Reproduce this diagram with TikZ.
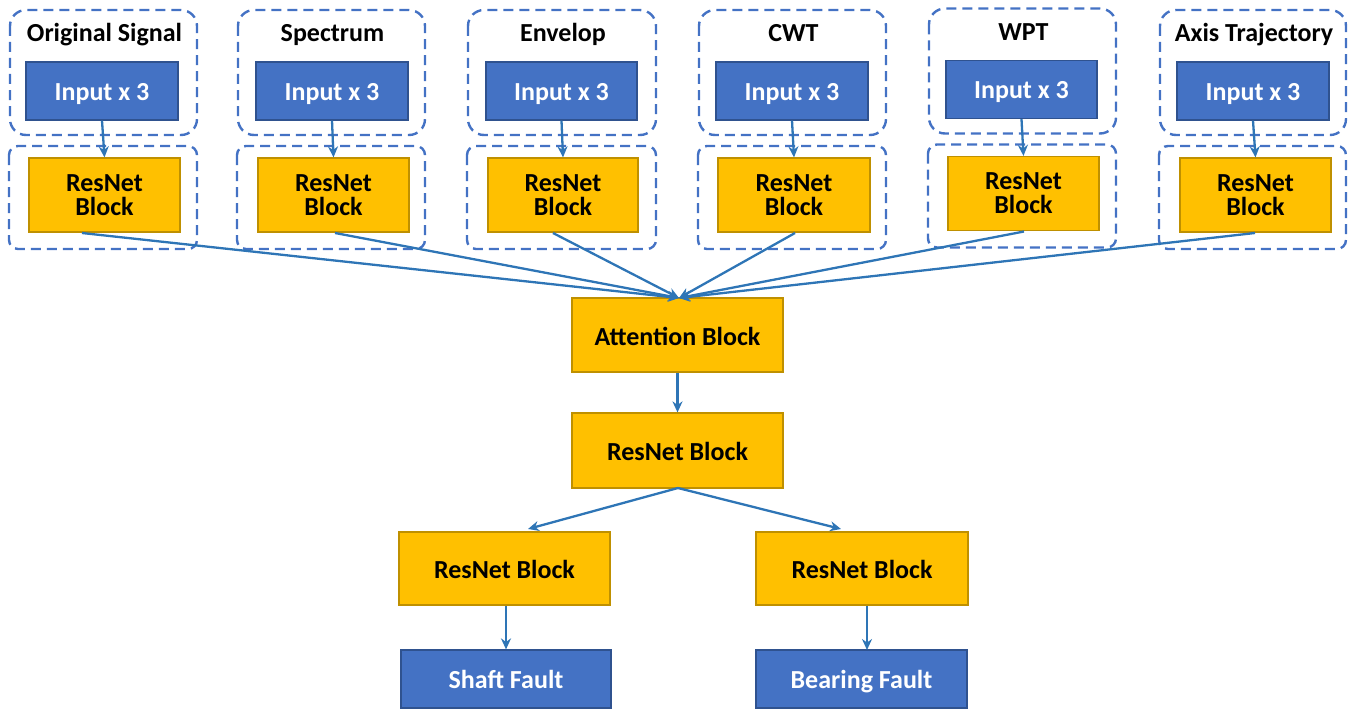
\documentclass[tikz,border=0pt]{standalone}
\usepackage{fontspec}
\setmainfont{Carlito}
\usetikzlibrary{arrows.meta}
\definecolor{bfill}{HTML}{4472C4}
\definecolor{bdraw}{HTML}{2F528F}
\definecolor{ofill}{HTML}{FFC000}
\definecolor{odraw}{HTML}{BF9000}
\definecolor{arr}{HTML}{2E75B6}
\definecolor{dashc}{HTML}{4472C4}
\begin{document}
\begin{tikzpicture}[x=1pt,y=-1pt,
  bluebox/.style={draw=bdraw,fill=bfill,line width=1.2pt,text=white,font=\fontsize{26}{24}\selectfont\bfseries,text height=21pt,text depth=2pt},
  orangebox/.style={draw=odraw,fill=ofill,line width=1.2pt,text=black,font=\fontsize{26}{24}\selectfont\bfseries,align=center},
  oneline/.style={text height=21pt,text depth=1pt},
  group/.style={draw=dashc,dash pattern=on 10pt off 6pt,line width=2.4pt,rounded corners=16pt},
  lgroup/.style={draw=dashc,dash pattern=on 10pt off 6pt,line width=2.4pt,rounded corners=9pt},
  title/.style={font=\fontsize{26}{24}\selectfont\bfseries,text=black,anchor=base,inner sep=0pt},
  conn/.style={draw=arr,line width=2.3pt,-{Stealth[length=11pt,width=10pt]}}
]
\useasboundingbox (0,0) rectangle (1355,709);
\foreach \n/\gl/\gr/\bl/\br/\kl/\kr/\ttl/\sx/\dy in {
  a/10/197/26/178/29/180/{Original Signal}/82/0,
  b/238/425/256/408/258/409/{Spectrum}/335/0,
  c/468/656/486/637/488/638/{Envelop}/553/0,
  d/699/886/716/868/718/870/{CWT}/795/0,
  e/929/1116/946/1097/948/1099/{WPT}/1024/-1.5,
  f/1160/1346/1177/1329/1180/1331/{Axis Trajectory}/1255/0}{
  \path[group] (\gl,10+\dy) rectangle (\gr,135+\dy);
  \path[lgroup] (\gl-1,146+\dy) rectangle (\gr,249+\dy);
  \node[title] (t\n) at ({(\gl+\gr)/2+1},42+\dy) {\ttl};
  \node[bluebox,minimum width=\br-\bl,minimum height=58,inner sep=0pt] (in\n) at ({(\bl+\br)/2},91+\dy) {Input x 3};
  \node[orangebox,minimum width=\kr-\kl,minimum height=74,inner sep=0pt] (rb\n) at ({(\kl+\kr)/2},195+\dy) {ResNet\\Block};
  \coordinate (s\n) at (\sx,233+\dy);
}
\node[orangebox,oneline,minimum width=211,minimum height=74,inner sep=0pt] (att) at (677.5,335) {Attention Block};
\node[orangebox,oneline,minimum width=211,minimum height=75,inner sep=0pt] (mid) at (677.5,450.5) {ResNet Block};
\node[orangebox,oneline,minimum width=211,minimum height=73,inner sep=0pt] (left) at (504.5,568.5) {ResNet Block};
\node[orangebox,oneline,minimum width=212,minimum height=73,inner sep=0pt] (right) at (862,568.5) {ResNet Block};
\node[bluebox,minimum width=210,minimum height=58,inner sep=0pt] (shaft) at (506,679) {Shaft Fault};
\node[bluebox,minimum width=211,minimum height=58,inner sep=0pt] (bear) at (861.5,679) {Bearing Fault};
\coordinate (attin) at (679,298);
\foreach \n in {a,b,c,d,e,f}{
  \draw[conn] (in\n.south) -- (rb\n.north);
  \draw[conn] (s\n) -- (attin);
}
\draw[conn] (att.south) -- (mid.north);
\coordinate (midout) at (678,488);
\coordinate (lin) at (528,529);
\coordinate (rin) at (841,529);
\draw[conn] (midout) -- (lin);
\draw[conn] (midout) -- (rin);
\draw[conn] (shaft.north |- left.south) -- (shaft.north);
\coordinate (bearin) at (867,650);
\draw[conn] (bearin |- right.south) -- (bearin);
\end{tikzpicture}
\end{document}
